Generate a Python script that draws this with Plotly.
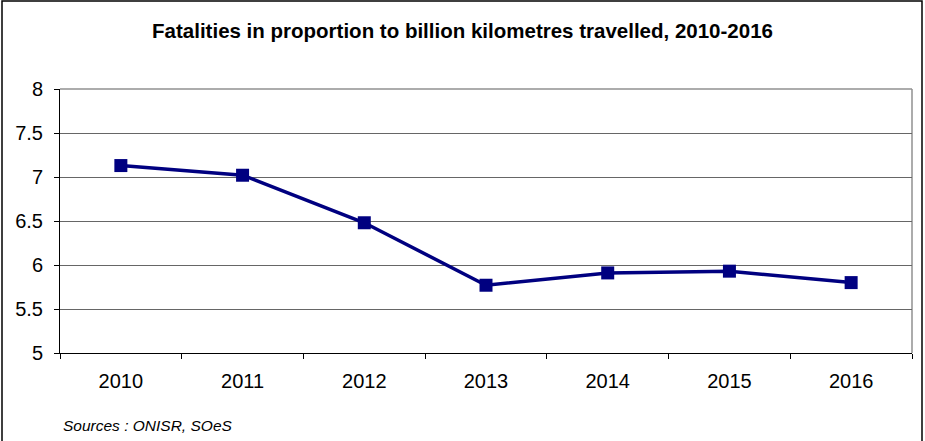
import plotly.graph_objects as go

years = ["2010", "2011", "2012", "2013", "2014", "2015", "2016"]
fatalities_per_bn_km = [7.13, 7.02, 6.48, 5.77, 5.91, 5.93, 5.80]
y_ticks = [5, 5.5, 6, 6.5, 7, 7.5, 8]
y_tick_text = ["5", "5.5", "6", "6.5", "7", "7.5", "8"]

W, H = 925, 441
ML, MR, MT, MB = 60, 13, 89, 88
pw, ph = W - ML - MR, H - MT - MB


def px_x(x):
    return (x - ML) / pw


def px_y(y):
    return (H - MB - y) / ph


fig = go.Figure()
fig.add_trace(go.Scatter(
    x=years, y=fatalities_per_bn_km, mode="lines+markers",
    line=dict(color="#000080", width=3.5),
    marker=dict(symbol="square", size=13, color="#000080"),
    showlegend=False, hoverinfo="x+y",
))

fig.update_layout(
    width=W, height=H,
    margin=dict(l=ML, r=MR, t=MT, b=MB),
    paper_bgcolor="white", plot_bgcolor="white",
    font=dict(family="Liberation Sans, Arial, sans-serif", color="black"),
    title=dict(
        text="<b>Fatalities in proportion to billion kilometres travelled, 2010-2016</b>",
        x=0.5, xanchor="center", y=1 - 31 / H, yanchor="middle",
        font=dict(size=20.5, color="black"),
    ),
    xaxis=dict(
        type="category", range=[-0.5, 6.5], tickson="boundaries",
        ticks="outside", ticklen=5, tickcolor="black", tickwidth=1,
        showline=True, linecolor="black", linewidth=1,
        showgrid=False, zeroline=False,
        tickfont=dict(size=20), ticklabelstandoff=10,
    ),
    yaxis=dict(
        range=[5, 8], tickvals=y_ticks, ticktext=y_tick_text,
        ticks="outside", ticklen=5, tickcolor="black", tickwidth=1,
        showline=True, linecolor="black", linewidth=1,
        showgrid=True, gridcolor="#666666", gridwidth=1,
        zeroline=False, tickfont=dict(size=20), ticklabelstandoff=7,
    ),
    shapes=[
        # gray frame on top and right of the plot area
        dict(type="line", xref="paper", yref="paper", x0=0, x1=1, y0=1, y1=1,
             line=dict(color="#909090", width=1.5), layer="below"),
        dict(type="line", xref="paper", yref="paper", x0=1, x1=1, y0=0, y1=1,
             line=dict(color="#909090", width=1.5), layer="below"),
        # outer chart border
        dict(type="rect", xref="paper", yref="paper",
             x0=px_x(2), x1=px_x(922), y0=px_y(1), y1=px_y(445),
             line=dict(color="black", width=1.5), fillcolor="rgba(0,0,0,0)"),
    ],
    annotations=[
        dict(text="<i>Sources : ONISR, SOeS</i>", xref="paper", yref="paper",
             x=px_x(61), y=px_y(425), xanchor="left", yanchor="middle",
             showarrow=False, font=dict(size=15.5, color="black")),
    ],
)

fig.write_html("out.html")
